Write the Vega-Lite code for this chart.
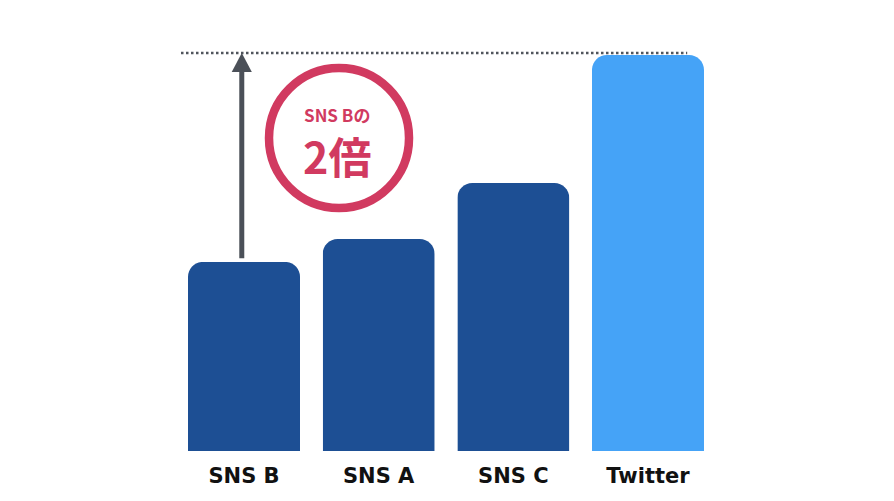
{
  "$schema": "https://vega.github.io/schema/vega-lite/v6.json",
  "width": 516,
  "height": 416,
  "autosize": {"type": "none"},
  "padding": {"left": 188, "top": 35, "right": 190, "bottom": 50},
  "background": "white",
  "config": {"view": {"stroke": null}, "font": "DejaVu Sans"},
  "datasets": {
    "bars": [
      {"sns": "SNS B", "value": 100, "group": "other"},
      {"sns": "SNS A", "value": 112.1, "group": "other"},
      {"sns": "SNS C", "value": 141.7, "group": "other"},
      {"sns": "Twitter", "value": 209.4, "group": "Twitter"}
    ],
    "ref": [
      {"line": 210.5, "arrowFrom": 102, "arrowTo": 200.5, "circleY": 165.5}
    ],
    "notes": [
      {"text": "SNS Bの", "y": 176.6, "size": 17},
      {"text": "2倍", "y": 153.4, "size": 43}
    ]
  },
  "layer": [
    {
      "data": {"name": "bars"},
      "mark": {"type": "bar", "cornerRadiusTopLeft": 15, "cornerRadiusTopRight": 15},
      "encoding": {
        "x": {
          "field": "sns", "type": "nominal",
          "scale": {"domain": ["SNS B", "SNS A", "SNS C", "Twitter"], "paddingInner": 0.168, "paddingOuter": 0},
          "axis": {"title": null, "ticks": false, "domain": false, "labelAngle": 0, "labelFont": "DejaVu Sans", "labelFontSize": 21, "labelFontWeight": "bold", "labelColor": "#111111", "labelPadding": 14}
        },
        "y": {"field": "value", "type": "quantitative", "scale": {"domain": [0, 220]}, "axis": null},
        "color": {"field": "group", "type": "nominal", "scale": {"domain": ["other", "Twitter"], "range": ["#1d4f94", "#45a3f7"]}, "legend": null}
      }
    },
    {
      "data": {"name": "ref"},
      "mark": {"type": "rule", "strokeDash": [2.5, 2.5], "strokeWidth": 2.5, "color": "#50555c", "xOffset": -7},
      "encoding": {
        "x": {"datum": "SNS B", "type": "nominal", "bandPosition": 0},
        "x2": {"datum": "Twitter", "bandPosition": 0.85},
        "y": {"field": "line", "type": "quantitative"}
      }
    },
    {
      "data": {"name": "ref"},
      "mark": {"type": "rule", "strokeWidth": 5, "color": "#4b5058"},
      "encoding": {
        "x": {"datum": "SNS B", "type": "nominal", "bandPosition": 0.48},
        "y": {"field": "arrowFrom", "type": "quantitative"},
        "y2": {"field": "arrowTo"}
      }
    },
    {
      "data": {"name": "ref"},
      "mark": {"type": "point", "shape": "M0,0L0.53,1L-0.53,1Z", "size": 1444, "filled": true, "color": "#4b5058", "opacity": 1, "strokeWidth": 0},
      "encoding": {
        "x": {"datum": "SNS B", "type": "nominal", "bandPosition": 0.48},
        "y": {"field": "line", "type": "quantitative"}
      }
    },
    {
      "data": {"name": "ref"},
      "mark": {"type": "point", "shape": "circle", "size": 19600, "filled": false, "color": "#d13a60", "strokeWidth": 8.5, "opacity": 1},
      "encoding": {
        "x": {"datum": "SNS A", "type": "nominal", "bandPosition": 0.146},
        "y": {"field": "circleY", "type": "quantitative"}
      }
    },
    {
      "data": {"name": "notes"},
      "mark": {"type": "text", "color": "#d13a60", "fontWeight": "bold", "font": "Noto Sans CJK JP", "baseline": "middle", "align": "center"},
      "encoding": {
        "x": {"datum": "SNS A", "type": "nominal", "bandPosition": 0.13},
        "y": {"field": "y", "type": "quantitative"},
        "size": {"field": "size", "type": "quantitative", "scale": null},
        "text": {"field": "text"}
      }
    }
  ]
}
